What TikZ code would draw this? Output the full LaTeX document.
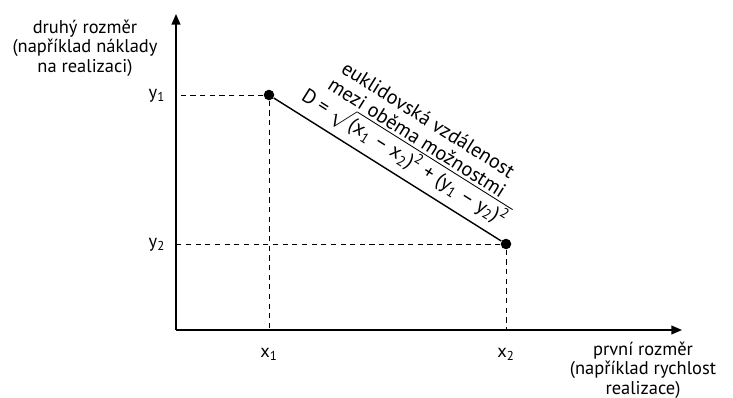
\documentclass[tikz,border=0pt]{standalone}
\usepackage{fontspec}
\setmainfont{PT Sans}
\usepackage{amsmath}
\usetikzlibrary{arrows.meta,positioning}

\begin{document}
\begin{tikzpicture}[
  x=0.02cm, y=-0.02cm, >=Triangle, font=\fontsize{10.5}{11.2}\selectfont,
  axis/.style={->, thick, >={Triangle[length=6pt,width=5pt]}},
  guide/.style={dashed, thin, dash pattern=on 3pt off 2.5pt},
  dot/.style={circle, fill=black, minimum size=6pt, inner sep=0pt},
  albl/.style={align=center, inner sep=1pt},
  tick/.style={inner sep=1pt},
]
  \useasboundingbox (0,0) rectangle (733,398);

  % axes
  \coordinate (O) at (176,330);
  \coordinate (ytop) at (176,14);
  \coordinate (xend) at (682,330);
  \draw[axis] (O) -- (ytop);
  \draw[axis] (O) -- (xend);

  % the two options
  \node[dot] (p1) at (269,95) {};
  \node[dot] (p2) at (506,244) {};

  \draw[guide] (p1) -- (O |- p1);
  \draw[guide] (p1) -- (p1 |- O);
  \draw[guide] (p2) -- (O |- p2);
  \draw[guide] (p2) -- (p2 |- O);

  \draw[thick] (p1) -- (p2)
    node[pos=0.53, sloped, above=3pt, albl, font=\fontsize{11.5}{12}\selectfont]
    {euklidovská vzdálenost\\mezi oběma možnostmi\\
     D = $\sqrt{\text{(x\textsubscript{1} -- x\textsubscript{2})\textsuperscript{2}
       + (y\textsubscript{1} -- y\textsubscript{2})\textsuperscript{2}}}$};

  % tick labels
  \node[tick] (y1) at (157,96) {y\textsubscript{1}};
  \node[tick] (y2) at (157,245) {y\textsubscript{2}};
  \node[tick] (x1) at (269,354) {x\textsubscript{1}};
  \node[tick] (x2) at (506,354) {x\textsubscript{2}};

  % axis titles
  \node[albl] (ylab) at (85,48) {druhý rozměr\\(například náklady\\na realizaci)};
  \node[albl] (xlab) at (643,370) {první rozměr\\(například rychlost\\realizace)};
\end{tikzpicture}
\end{document}
